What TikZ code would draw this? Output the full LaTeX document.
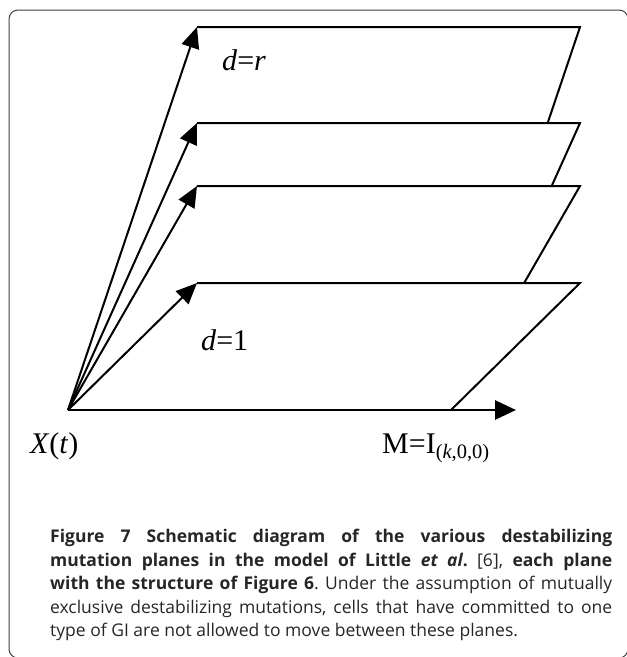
\documentclass[tikz,border=0pt]{standalone}
\usepackage{fontspec}
\setmainfont{Liberation Serif}
\setsansfont{Open Sans}
\usetikzlibrary{arrows.meta}

\begin{document}
\begin{tikzpicture}[x=1pt,y=-1pt]

\tikzstyle{plane}=[draw,line width=2pt,line join=miter];
\tikzstyle{rise}=[line width=2pt,-{Triangle[length=21pt,width=18pt]}];
\tikzstyle{axis}=[line width=2.8pt,-{Triangle[length=21pt,width=19pt]}];
\tikzstyle{lbl}=[inner sep=0pt,anchor=base west,font=\fontsize{30}{30}\selectfont];

\useasboundingbox (0,0) rectangle (627,657);

% Frame round figure and caption
\draw[line width=1pt,rounded corners=9pt,black!75] (9,10) rectangle (628,658);

% Corners of the planes
\coordinate (O) at (68,410);
\coordinate (E) at (451,410);
\coordinate (T) at (516,410);

% The planes, from the back one to the front one
\foreach \n/\y in {4/27,3/123,2/186,1/283}{
  \coordinate (tl\n) at (197,\y);
  \coordinate (tr\n) at (580,\y);
  \fill[white] (O) -- (tl\n) -- (tr\n) -- (E) -- cycle;
  \draw[plane] (tl\n) -- (tr\n) -- (E);
}

% Arrows out of X(t)
\foreach \n in {1,...,4}
  \draw[rise] (O) -- (tl\n);
\draw[axis] (O) -- (T);

% Labels
\node[lbl] (dr) at (222,70) {\textit{d}=\textit{r}};
\node[lbl] (d1) at (201,350) {\textit{d}=1};
\node[lbl] (xt) at (30,453) {\textit{X}(\textit{t})};
\node[lbl] (mi) at (382,453) {M=I\raisebox{-5pt}{\fontsize{20.5}{20.5}\selectfont(\textit{k},0,0)}};

% Caption
\node[inner sep=0pt,anchor=north west,text width=562pt,align=justify,text=black!85,
  font=\sffamily\fontsize{17.5}{23.5}\selectfont\frenchspacing] (cap) at (50,529)
  {\textbf{Figure 7 Schematic diagram of the various destabilizing\linebreak
  mutation planes in the model of Little \textit{et al}.} [6], \textbf{each plane\linebreak
  with the structure of Figure 6}. Under the assumption of mutually\linebreak
  exclusive destabilizing mutations, cells that have committed to one\linebreak
  type of GI are not allowed to move between these planes.};

\end{tikzpicture}
\end{document}
